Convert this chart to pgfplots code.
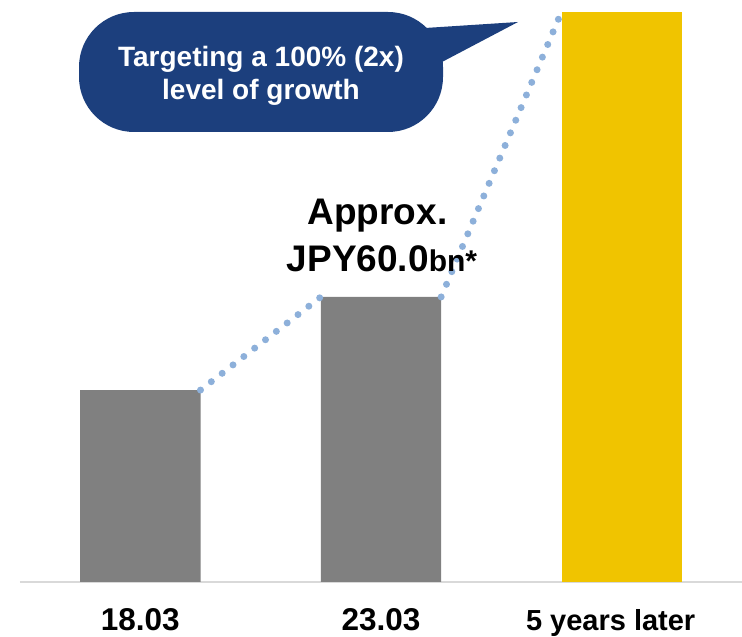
\documentclass[border=0pt]{standalone}
\usepackage{fontspec}
\setmainfont{Liberation Sans}
\usepackage{pgfplots}
\pgfplotsset{compat=1.18}

\definecolor{barGray}{HTML}{808080}
\definecolor{barGold}{HTML}{F0C400}
\definecolor{calloutNavy}{HTML}{1C3F7D}
\definecolor{trendBlue}{HTML}{8DB0DA}
\definecolor{baseGray}{HTML}{D9D9D9}

\newcommand{\numlabel}[1]{\fontsize{31.5}{36}\selectfont\bfseries #1}
\newcommand{\txtlabel}[1]{\fontsize{29}{36}\selectfont\bfseries #1\hspace*{22pt}}

\begin{document}
\begin{tikzpicture}[x=1pt,y=1pt]
\begin{axis}[
  at={(20pt,55pt)}, anchor=south west,
  scale only axis, width=722pt, height=582pt,
  xmin=-0.5, xmax=2.5, ymin=0, ymax=122.5,
  axis x line*=bottom, axis y line=none,
  x axis line style={draw=baseGray, line width=2pt, -},
  xtick={0,1,2},
  xticklabels={\numlabel{18.03},\numlabel{23.03},\txtlabel{5 years later}},
  major tick length=0pt,
  xticklabel style={anchor=base, inner sep=0pt, yshift=-49pt},
  clip=false,
]
  % revenue bars
  \addplot[ybar, bar width=0.5, bar shift=0pt, fill=barGray, draw=none]
    coordinates {(0,40.4) (1,60)};
  \addplot[ybar, bar width=0.5, bar shift=0pt, fill=barGold, draw=none]
    coordinates {(2,120)};
  % dotted growth path between bar corners
  \addplot[trendBlue, line width=7pt, line cap=round,
    dash pattern=on 0pt off 13.7pt]
    coordinates {(0.25,40.4) (0.75,60)};
  \addplot[trendBlue, line width=7pt, line cap=round,
    dash pattern=on 0pt off 13.7pt]
    coordinates {(1.25,60) (1.75,120)};
\end{axis}

% value annotation above the 23.03 bar
\node[anchor=base, inner sep=0pt] at (377.5,412)
  {\fontsize{37}{44}\selectfont\bfseries Approx.};
\node[anchor=base, inner sep=0pt] at (382,365)
  {\fontsize{37}{44}\selectfont\bfseries JPY60.0\fontsize{30}{36}\selectfont bn*};

% speech-bubble callout
\fill[calloutNavy, rounded corners=55pt] (79,505) rectangle (443,625);
\fill[calloutNavy] (425,609) -- (518,615) -- (442,575) -- cycle;
\node[anchor=base, inner sep=0pt, text=white] at (261,570)
  {\fontsize{28}{33}\selectfont\bfseries Targeting a 100\% (2x)};
\node[anchor=base, inner sep=0pt, text=white] at (261,537)
  {\fontsize{28}{33}\selectfont\bfseries level of growth};

\pgfresetboundingbox
\path[use as bounding box] (0,0) rectangle (742,637);
\end{tikzpicture}
\end{document}
